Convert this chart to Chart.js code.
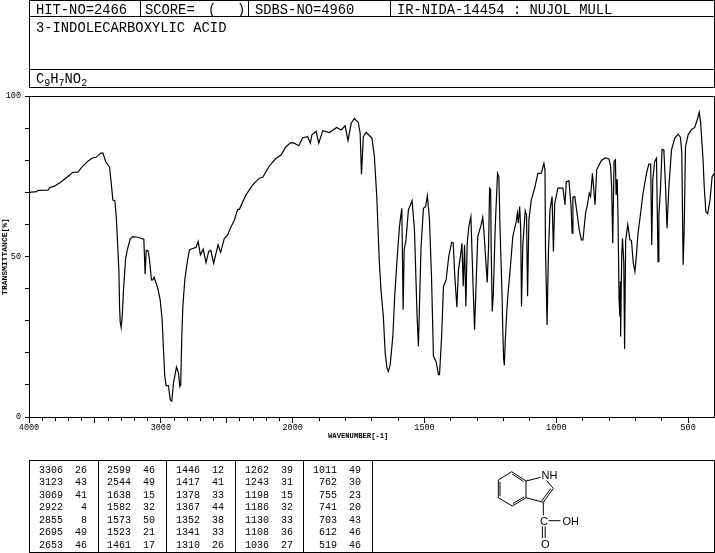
<!DOCTYPE html>
<html lang="en">
<head>
  <meta charset="UTF-8">
  <title>3-Indolecarboxylic acid IR spectrum</title>
  <script src="https://cdn.jsdelivr.net/npm/chart.js"></script>
  <style>
    body { margin: 0; background: #fff; color: #000; font-family: 'Liberation Mono', monospace; }
    #page { position: relative; width: 715px; height: 553px; overflow: hidden; }
    #page canvas { position: absolute; left: 0; top: 0; }
    .rule { position: absolute; background: #000; }
    .head { position: absolute; font-size: 13.8px; line-height: 14px; white-space: pre; }
    .peak { position: absolute; font-size: 10px; line-height: 10px; white-space: pre; }
    .axis-name { position: absolute; left: 328px; top: 432px; font-size: 7.2px; line-height: 9px; font-weight: bold; white-space: pre; }
    sub { font-size: 10px; line-height: 0; vertical-align: -3px; letter-spacing: 0; }
    svg { position: absolute; left: 0; top: 0; }
  </style>
</head>
<body>

<div id="page">
  <canvas id="spectrum" width="715" height="553"></canvas>
  <div id="boxes"></div>

  <div class="head" style="left:36px;top:4px">HIT-NO=2466</div>
  <div class="head" style="left:145px;top:4px">SCORE=</div>
  <div class="head" style="left:208px;top:4px">(</div>
  <div class="head" style="left:237px;top:4px">)</div>
  <div class="head" style="left:255px;top:4px">SDBS-NO=4960</div>
  <div class="head" style="left:397px;top:4px">IR-NIDA-14454 : NUJOL MULL</div>
  <div class="head" style="left:36px;top:22px">3-INDOLECARBOXYLIC ACID</div>
  <div class="head" style="left:36px;top:73px">C<sub>9</sub>H<sub>7</sub>NO<sub>2</sub></div>
  <div class="axis-name">WAVENUMBER[-1]</div>

  <svg width="715" height="553" stroke="#000" stroke-width="1" fill="none">
    <path d="M498.3 480L511.7 471.7L526 481V497.7L512.3 506L498.3 497.7Z"/>
    <path d="M500 482V496M512.3 474L523.5 481.5M513 503.5L524 497"/>
    <path d="M526 481L540.7 477.3M546.7 480.7L553.3 488.3L543.3 502.3L526 497.7"/>
    <path d="M550.8 488.5L541.8 500.8"/>
    <path d="M543.3 502.3V515.5M548.5 520.7H560.5M542.4 526.5V538M545.2 526.5V538"/>
    <g fill="#000" stroke="none" font-family="'Liberation Sans', sans-serif" font-size="11">
      <text x="541.5" y="478.5">NH</text>
      <text x="540" y="524.5">C</text>
      <text x="562.5" y="524.5">OH</text>
      <text x="541" y="548">O</text>
    </g>
  </svg>
</div>

<script>
// peak table, 7 rows in each of the 5 columns
const peakWavenumbers = [3306, 3123, 3069, 2922, 2855, 2695, 2653,
  2599, 2544, 1638, 1582, 1573, 1523, 1461,
  1446, 1417, 1378, 1367, 1352, 1341, 1310,
  1262, 1243, 1198, 1186, 1130, 1108, 1036,
  1011, 762, 755, 741, 703, 612, 519];
const peakValues = [26, 43, 41, 4, 8, 49, 46,
  46, 49, 15, 32, 50, 21, 17,
  12, 41, 33, 44, 38, 33, 26,
  39, 31, 15, 32, 33, 36, 27,
  49, 30, 23, 20, 43, 46, 46];

// spectrum trace
const wavenumbers = [4000, 3944, 3932, 3856, 3843, 3806, 3755, 3705, 3667, 3629, 3591, 3553, 3520, 3490, 3457, 3439, 3419, 3389, 3376, 3364,
  3349, 3338, 3328, 3318, 3313, 3308, 3301, 3293, 3283, 3268, 3255, 3232, 3212, 3174, 3129, 3119, 3111, 3096, 3086, 3071,
  3061, 3051, 3023, 3005, 2990, 2980, 2970, 2960, 2942, 2929, 2917, 2904, 2881, 2866, 2856, 2849, 2841, 2833, 2818, 2803,
  2783, 2732, 2717, 2700, 2679, 2657, 2637, 2621, 2599, 2578, 2566, 2546, 2518, 2493, 2467, 2442, 2417, 2404, 2354, 2303,
  2253, 2227, 2177, 2126, 2088, 2051, 2013, 1994, 1977, 1962, 1943, 1933, 1927, 1911, 1901, 1886, 1861, 1833, 1816, 1801,
  1790, 1778, 1766, 1751, 1744, 1739, 1732, 1721, 1699, 1690, 1681, 1671, 1665, 1656, 1649, 1642, 1637, 1630, 1620, 1613,
  1605, 1595, 1586, 1583, 1581, 1577, 1570, 1561, 1547, 1538, 1528, 1523, 1519, 1513, 1504, 1496, 1489, 1481, 1473, 1466,
  1456, 1447, 1443, 1435, 1428, 1418, 1408, 1397, 1391, 1385, 1377, 1371, 1363, 1358, 1353, 1348, 1343, 1338, 1332, 1324,
  1316, 1310, 1304, 1298, 1285, 1279, 1275, 1270, 1262, 1257, 1253, 1249, 1247, 1243, 1239, 1232, 1227, 1223, 1218, 1213,
  1206, 1203, 1200, 1197, 1194, 1189, 1184, 1175, 1165, 1152, 1148, 1144, 1139, 1135, 1132, 1127, 1118, 1113, 1109, 1104,
  1095, 1082, 1070, 1057, 1047, 1043, 1041, 1035, 1030, 1024, 1016, 1011, 1006, 994, 975, 967, 962, 952, 944, 940,
  937, 930, 923, 913, 905, 899, 889, 882, 875, 870, 863, 853, 847, 829, 814, 800, 794, 790, 786, 781,
  776, 773, 769, 766, 762, 759, 757, 756, 752, 749, 744, 741, 737, 729, 721, 715, 708, 702, 696, 690,
  681, 671, 658, 649, 642, 638, 634, 627, 620, 614, 611, 605, 599, 592, 586, 580, 573, 563, 551, 538,
  529, 524, 519, 515, 510, 500, 487, 475, 464, 458, 453, 444, 439, 433, 426, 417, 409, 401];
const transmittance = [70, 70.2, 70.6, 70.7, 71.5, 71.9, 73.3, 74.9, 76.2, 76.3, 78.2, 79.7, 80.7, 80.9, 82.2, 82.2, 79.6, 77.8, 72.8, 67.6,
  67.4, 62.4, 54.1, 45.3, 34.4, 29.6, 27.9, 31.3, 39.6, 49, 52, 55.5, 56.2, 56, 55.4, 44.5, 51.9, 51.7, 49, 42.7,
  42.7, 43.5, 40.1, 36.5, 30.3, 21, 12.7, 9.8, 9.8, 5.4, 4.9, 10.6, 15.6, 13.7, 9.5, 10, 25.1, 34.4, 42.7, 47.4,
  52.1, 52.9, 54.7, 50.5, 52.3, 48.1, 51.6, 51.9, 47.9, 51.6, 53.6, 51.3, 55.7, 56.7, 59.3, 61.4, 64.7, 64.7, 69.2, 72.3,
  74.4, 74.7, 78.2, 80.6, 81.6, 84.2, 85.5, 85.3, 84.5, 87, 87.3, 85.3, 87.9, 89, 85.3, 89.2, 88.6, 90.2, 89.4, 90.7,
  86.1, 91.5, 93, 91.7, 88.4, 75.6, 87.3, 88.7, 86.8, 81.1, 68.7, 47.9, 39.6, 31.3, 19.9, 15.2, 14.2, 16.3, 25.1, 37.6,
  47.9, 59.3, 65, 46.9, 33.4, 52.1, 55.2, 64.5, 67.4, 58.3, 31.3, 22, 34.6, 53.1, 65, 65.5, 69, 61.4, 42.7, 18.9,
  17.3, 13.2, 13.2, 25.1, 40.7, 42.7, 50, 54.4, 54.2, 43.8, 34.2, 45.9, 50.5, 54.1, 40.7, 53.6, 34.4, 53.9, 59.3, 62.4,
  41.7, 27.2, 41.7, 56.2, 59.9, 62.2, 58.3, 52.1, 41.9, 52.9, 71.3, 70.8, 52.1, 32.9, 38, 58.3, 68.2, 75.9, 74.9, 57.3,
  38.6, 27.2, 18.4, 16.1, 23, 31.3, 37.6, 45.9, 56.2, 60.9, 63.5, 60.4, 65.6, 58.3, 34.4, 53.6, 64.3, 63, 37.6, 61.4,
  67.6, 71.3, 75.9, 75.9, 79, 77, 52.1, 28.7, 51, 64.5, 68.7, 51.6, 66.6, 71.3, 71.3, 66.1, 73.3, 73.6, 65.6, 57.3,
  68.5, 68.7, 64.5, 58.3, 55.2, 55.2, 63.5, 66.1, 69.7, 68.7, 75.9, 66.1, 77, 79.9, 80.7, 80.4, 78, 71.3, 54.1, 79.6,
  80.1, 69.2, 74.1, 62.4, 36.5, 31.3, 42.2, 25.1, 50, 55.7, 48, 21.2, 55, 59.9, 55.2, 55, 47.9, 45.3, 50.5, 57.3,
  63, 69.7, 75.9, 78.8, 78.8, 53.6, 73.9, 79.6, 80.6, 48.4, 62.9, 70.7, 83.4, 83.2, 72.3, 58.8, 71.8, 83.2, 86.8, 88.1,
  87.1, 82.2, 47.4, 58.3, 84.2, 87.9, 89.6, 90.2, 93, 94.9, 92, 81.1, 71.8, 64, 63.3, 67.6, 74.9, 75.9];

const xTicks = [4000, 3900, 3800, 3700, 3600, 3500, 3400, 3300, 3200, 3100, 3000, 2900, 2800, 2700, 2600, 2500, 2400, 2300, 2200, 2100,
  2000, 1900, 1800, 1700, 1600, 1500, 1400, 1300, 1200, 1100, 1000, 900, 800, 700, 600, 500, 400];
const xLabels = [4000, 3000, 2000, 1500, 1000, 500];
const yLabels = [0, 50, 100];

// header rules and table frames
const boxes = document.getElementById('boxes');
function rule(x, y, w, h) {
  const d = document.createElement('div');
  d.className = 'rule';
  d.style.cssText = `left:${x}px;top:${y}px;width:${w}px;height:${h}px`;
  boxes.appendChild(d);
}
[0, 16, 69, 87].forEach(y => rule(29, y, 686, 1));
[29, 714].forEach(x => rule(x, 0, 1, 88));
[140, 248, 390].forEach(x => rule(x, 0, 1, 17));
[460, 552].forEach(y => rule(29, y, 686, 1));
[29, 98, 166, 235, 303, 372, 714].forEach(x => rule(x, 460, 1, 93));

// peak table text
const colLeft = [39, 107, 176, 245, 313];
peakWavenumbers.forEach((wn, i) => {
  const d = document.createElement('div');
  d.className = 'peak';
  d.style.left = colLeft[Math.floor(i / 7)] + 'px';
  d.style.top = (465.5 + (i % 7) * 12.5) + 'px';
  d.textContent = String(wn).padStart(4) + '  ' + String(peakValues[i]).padStart(2);
  document.getElementById('page').appendChild(d);
});

// the x axis is stretched 2x below 2000, as on the instrument chart
class WavenumberScale extends Chart.LinearScale {
  getDecimalForValue(v) {
    return v >= 2000 ? (4000 - v) / 5200 : (2000 + (2000 - v) * 2) / 5200;
  }
  getPixelForValue(v) {
    return this.left + this.getDecimalForValue(v) * this.width;
  }
  getValueForPixel(px) {
    const d = (px - this.left) / this.width * 5200;
    return d <= 2000 ? 4000 - d : 2000 - (d - 2000) / 2;
  }
}
WavenumberScale.id = 'wavenumber';
WavenumberScale.defaults = Chart.LinearScale.defaults;
Chart.register(WavenumberScale);

const tickFont = { family: "'Liberation Mono', monospace", size: 8.5 };

new Chart(document.getElementById('spectrum'), {
  type: 'line',
  data: {
    datasets: [{
      data: wavenumbers.map((w, i) => ({ x: w, y: transmittance[i] })),
      borderColor: '#000',
      borderWidth: 1.2,
      pointRadius: 0,
      tension: 0,
      fill: false
    }]
  },
  options: {
    responsive: false,
    animation: false,
    layout: { padding: { top: 96, bottom: 106, left: 0, right: 0.5 } },
    plugins: { legend: { display: false }, tooltip: { enabled: false } },
    scales: {
      x: {
        type: 'wavenumber',
        min: 400,
        max: 4000,
        afterBuildTicks: s => { s.ticks = xTicks.map(v => ({ value: v })); },
        afterFit: s => { s.height = 30; s.paddingLeft = 0; s.paddingRight = 0; },
        border: { color: '#000', width: 1 },
        grid: {
          tickLength: 6,
          color: c => c.tick && c.tick.value === 400 ? '#000' : 'transparent',
          tickColor: c => c.tick && c.tick.value === 400 ? 'transparent' : '#000',
          tickBorderDash: c => c.tick && c.tick.value % 500 === 0 ? [] : [3, 3]
        },
        ticks: {
          autoSkip: false,
          maxRotation: 0,
          padding: 0,
          color: '#000',
          font: tickFont,
          callback: v => xLabels.includes(v) ? String(v) : ''
        }
      },
      y: {
        min: 0,
        max: 100,
        ticks: {
          stepSize: 10,
          padding: 4,
          color: '#000',
          font: tickFont,
          callback: v => yLabels.includes(v) ? String(v) : ''
        },
        afterFit: s => { s.width = 29; s.paddingTop = 0; s.paddingBottom = 0; },
        border: { color: '#000', width: 1 },
        grid: {
          tickLength: 4,
          color: c => c.tick && c.tick.value === 100 ? '#000' : 'transparent',
          tickColor: '#000'
        },
        title: {
          display: true,
          text: 'TRANSMITTANCE[%]',
          color: '#000',
          padding: 0,
          font: { family: "'Liberation Mono', monospace", size: 8, weight: 'bold' }
        }
      }
    }
  }
});
</script>

</body>
</html>
